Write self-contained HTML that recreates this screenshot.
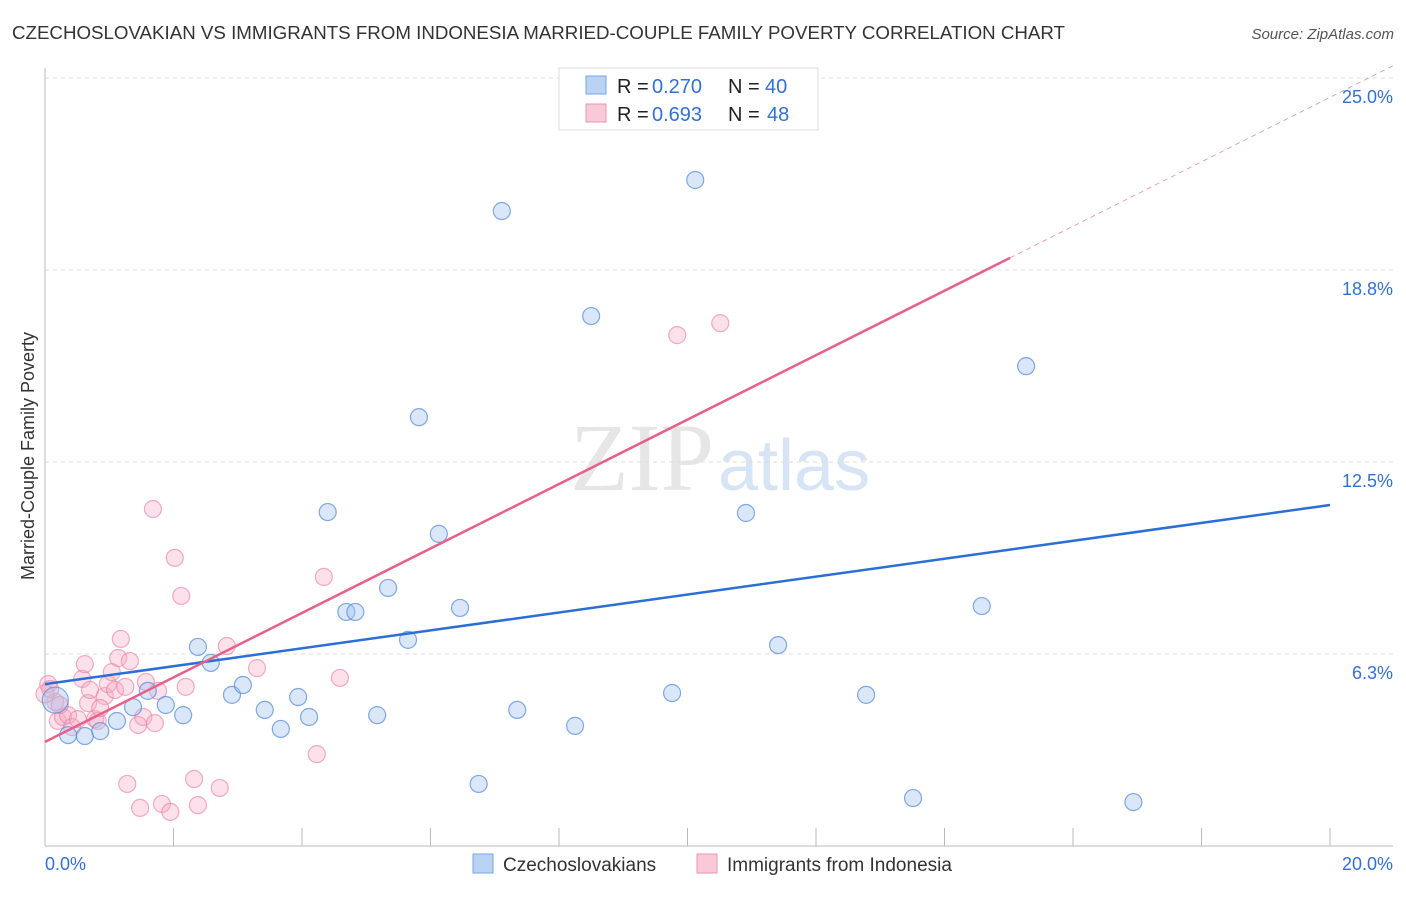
<!DOCTYPE html>
<html><head><meta charset="utf-8"><style>
body{margin:0;background:#fff;font-family:"Liberation Sans",sans-serif;}
</style></head><body>
<svg width="1406" height="892" viewBox="0 0 1406 892" xmlns="http://www.w3.org/2000/svg">
<text x="12" y="39" font-size="18" fill="#333" textLength="1053" lengthAdjust="spacingAndGlyphs">CZECHOSLOVAKIAN VS IMMIGRANTS FROM INDONESIA MARRIED-COUPLE FAMILY POVERTY CORRELATION CHART</text>
<text x="1394" y="39" font-size="15" fill="#555" font-style="italic" text-anchor="end">Source: ZipAtlas.com</text>
<text x="714" y="490" font-size="96" fill="#e6e6e6" text-anchor="end" font-family="Liberation Serif">ZIP</text>
<text x="718" y="490" font-size="72" fill="#d6e4f5">atlas</text>
<g id="grid"></g><g id="axes"></g><g id="pts"></g><g id="lines"></g>
<text x="34" y="456" font-size="18" fill="#333" transform="rotate(-90 34 456)" text-anchor="middle">Married-Couple Family Poverty</text>
<g>
<rect x="559" y="68" width="259" height="62" fill="#fff" stroke="#ddd"/>
<rect x="586" y="76" width="20" height="18" fill="#b9d3f5" stroke="#7aa5e0"/>
<rect x="586" y="104" width="20" height="18" fill="#f9c9d7" stroke="#eb93ad"/>
<text x="617" y="93" font-size="20" fill="#222">R =</text><text x="652" y="93" font-size="20" fill="#3370d6">0.270</text>
<text x="728" y="93" font-size="20" fill="#222">N =</text><text x="765" y="93" font-size="20" fill="#3370d6">40</text>
<text x="617" y="121" font-size="20" fill="#222">R =</text><text x="652" y="121" font-size="20" fill="#3370d6">0.693</text>
<text x="728" y="121" font-size="20" fill="#222">N =</text><text x="767" y="121" font-size="20" fill="#3370d6">48</text>
</g>
<g>
<rect x="473" y="854" width="20" height="19" fill="#b9d3f5" stroke="#7aa5e0"/>
<text x="503" y="871" font-size="19" fill="#333">Czechoslovakians</text>
<rect x="697" y="854" width="20" height="19" fill="#f9c9d7" stroke="#eb93ad"/>
<text x="727" y="871" font-size="19" fill="#333">Immigrants from Indonesia</text>
</g>
</svg>
<script>
const yTicks=[6.25,12.5,18.75,25];
const yTickLabels=["6.3%","12.5%","18.8%","25.0%"];
const xTickLabels=["0.0%","20.0%"];
const blueX=[0.16,0.36,0.62,0.86,1.12,1.37,1.6,1.88,2.15,2.38,2.58,2.91,3.08,3.42,3.67,3.94,4.11,4.4,4.69,4.83,5.17,5.34,5.65,5.82,6.13,6.46,6.75,7.11,7.35,8.25,8.5,9.76,10.12,10.91,11.41,12.78,13.51,14.58,15.27,16.94];
const blueY=[4.75,3.61,3.58,3.74,4.07,4.52,5.05,4.59,4.26,6.48,5.96,4.92,5.24,4.43,3.81,4.85,4.2,10.87,7.62,7.62,4.26,8.4,6.71,13.96,10.16,7.75,2.02,20.67,4.43,3.91,17.25,4.98,21.68,10.84,6.54,4.92,1.56,7.81,15.62,1.43];
const pinkX=[0.05,0.08,0.16,0.2,0.28,0.36,0.42,0.51,0.58,0.62,0.67,0.7,0.78,0.82,0.93,0.98,1.04,1.09,1.14,1.18,1.25,1.28,1.32,1.45,1.48,1.53,1.57,1.68,1.71,1.76,1.82,1.95,2.02,2.12,2.19,2.32,2.38,2.72,2.83,3.3,4.23,4.34,4.59,9.84,10.51,0.23,0.86,0.0];
const pinkY=[5.27,5.11,4.69,4.07,4.2,4.26,3.87,4.13,5.44,5.92,4.65,5.08,4.13,4.07,4.88,5.27,5.66,5.08,6.12,6.74,5.18,2.02,6.02,3.94,1.24,4.2,5.34,10.97,4.0,5.05,1.37,1.11,9.38,8.14,5.18,2.18,1.33,1.89,6.51,5.79,2.99,8.76,5.47,16.63,17.02,4.59,4.49,4.95];
const blueLine=[5.27,11.1];
const pinkLine=[3.39,1.049];
const NS="http://www.w3.org/2000/svg";
const X=v=>45+v/20*1285, Y=v=>846-v/25*768;
function mk(tag,attrs,parent){const e=document.createElementNS(NS,tag);for(const k in attrs)e.setAttribute(k,attrs[k]);document.getElementById(parent).appendChild(e);return e;}
yTicks.forEach((t,i)=>{
 const g=mk('line',{x1:45,x2:1393,y1:Y(t),y2:Y(t),stroke:'#ddd','stroke-dasharray':'4,4'},'grid');
 
 
 const l=mk('text',{x:1393,y:Y(t)+25,'font-size':18,fill:'#3370d6','text-anchor':'end'},'axes');
 l.textContent=yTickLabels[i];
 
 
});
let a=mk('line',{x1:45,x2:45,y1:68,y2:846,stroke:'#bbb'},'axes');


a=mk('line',{x1:45,x2:1393,y1:846,y2:846,stroke:'#bbb'},'axes');


for(let i=1;i<=10;i++){const t=mk('line',{x1:X(i*2),x2:X(i*2),y1:828,y2:846,stroke:'#bbb'},'axes');
 
 }
[[0,'start',45],[20,'end',1393]].forEach((d,i)=>{const t=mk('text',{x:d[2],y:870,'font-size':18,fill:'#3370d6','text-anchor':d[1]},'axes');t.textContent=xTickLabels[i];
 
 });
pinkX.forEach((x,i)=>{const c=mk('circle',{cx:X(x),cy:Y(pinkY[i]),r:i==47?9:8.5,fill:'rgba(245,170,195,0.35)',stroke:'rgba(235,130,165,0.65)','stroke-width':1.2},'pts');
 
 });
blueX.forEach((x,i)=>{const c=mk('circle',{cx:X(x),cy:Y(blueY[i]),r:i==0?13:8.5,fill:'rgba(160,195,240,0.4)',stroke:'rgba(80,135,215,0.7)','stroke-width':1.2},'pts');
 
 });
let ln=mk('line',{x1:X(0),y1:Y(blueLine[0]),x2:X(20),y2:Y(blueLine[1]),stroke:'#2a6fd6','stroke-width':2.5},'lines');


const pe=15.02;
ln=mk('line',{x1:X(0),y1:Y(pinkLine[0]),x2:X(pe),y2:Y(pinkLine[0]+pinkLine[1]*pe),stroke:'#e8608a','stroke-width':2.5},'lines');


const xe=(1393-45)/1285*20;
ln=mk('line',{x1:X(pe),y1:Y(pinkLine[0]+pinkLine[1]*pe),x2:X(xe),y2:Y(pinkLine[0]+pinkLine[1]*xe),stroke:'#f0a0b8','stroke-width':1,'stroke-dasharray':'5,4'},'lines');


</script>
</body></html>
